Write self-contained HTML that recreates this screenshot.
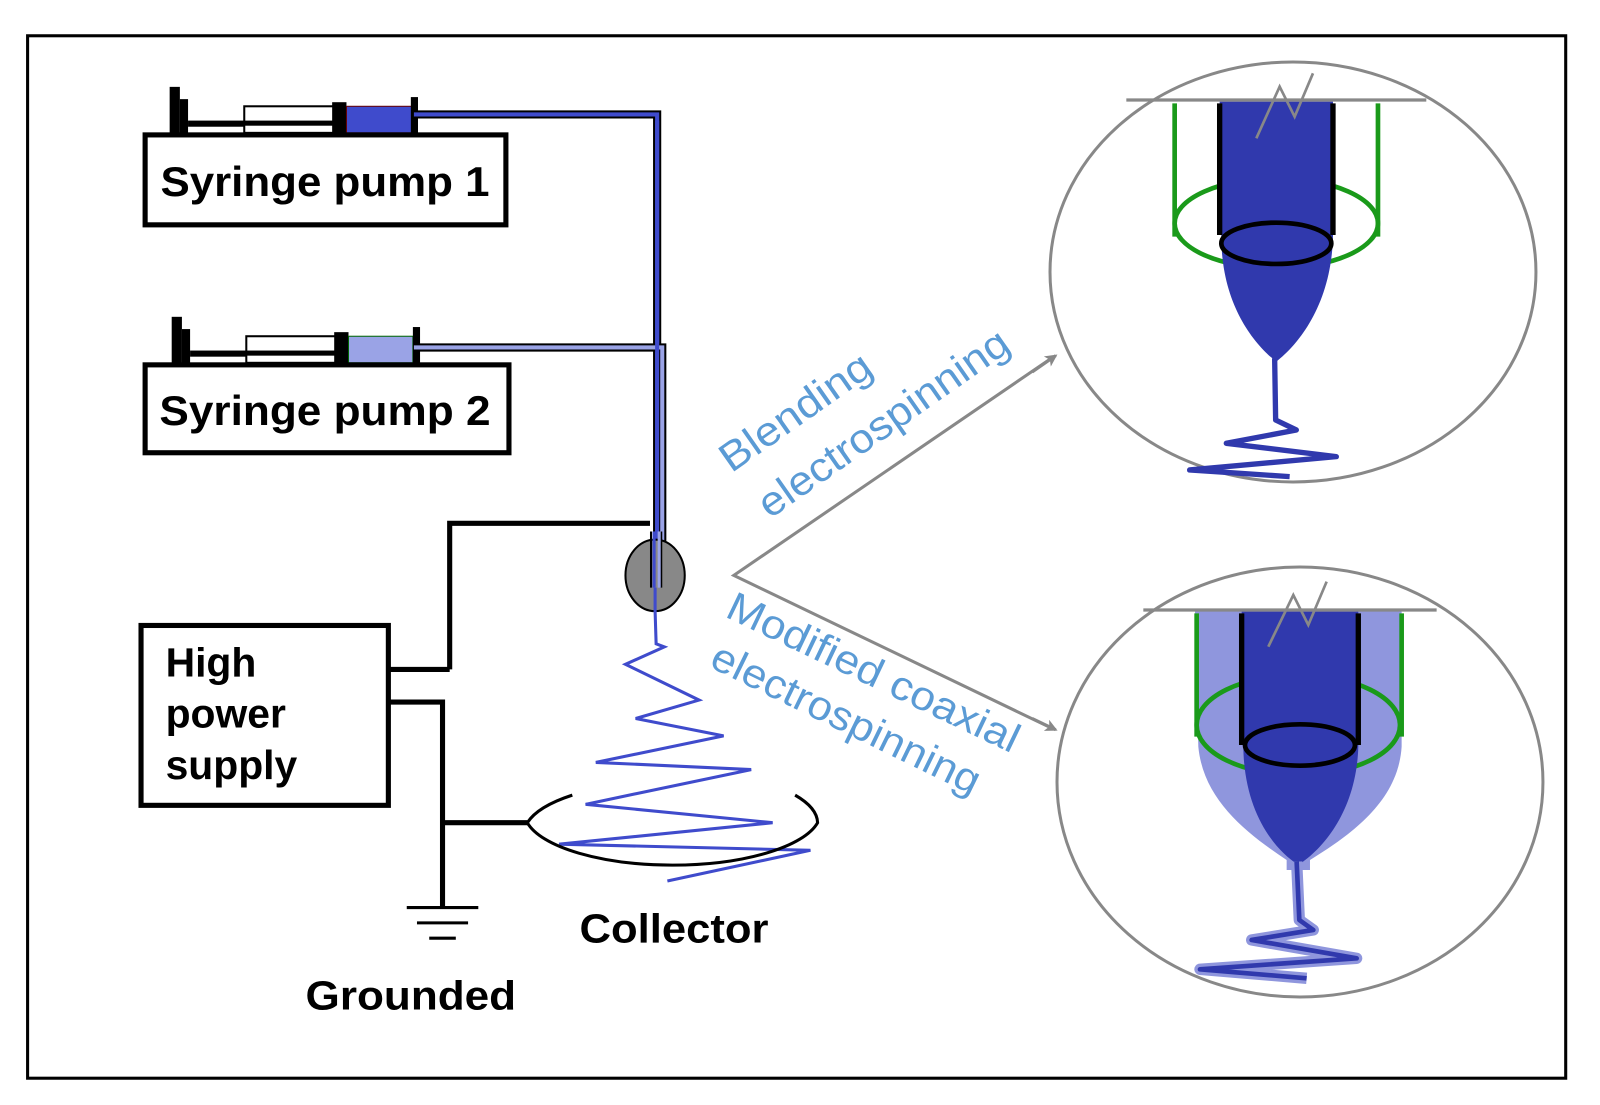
<!DOCTYPE html>
<html><head><meta charset="utf-8"><style>
html,body{margin:0;padding:0;background:#fff;}
svg{display:block;}
text{font-family:"Liberation Sans",Arial,sans-serif;}
</style></head><body>
<svg width="1600" height="1105" viewBox="0 0 1600 1105" xmlns="http://www.w3.org/2000/svg">
<rect width="1600" height="1105" fill="#fff"/>
<defs>
<marker id="ah" markerWidth="12" markerHeight="12" refX="10" refY="6" orient="auto" markerUnits="userSpaceOnUse" viewBox="0 0 12 12">
<path d="M0,0 L12,6 L0,12 L3,6 Z" fill="#888"/></marker>
</defs>
<g transform="scale(1.022)">
<rect x="27" y="35" width="1505" height="1020" fill="none" stroke="#000" stroke-width="3"/>

<!-- syringe 1 -->
<rect x="166" y="85" width="10" height="45" fill="#000"/>
<rect x="176" y="97" width="8" height="33" fill="#000"/>
<rect x="184" y="118" width="146" height="6" fill="#000"/>
<rect x="239" y="104" width="91" height="26" fill="#fff" stroke="#000" stroke-width="2"/>
<rect x="239" y="118" width="91" height="5" fill="#000"/>
<rect x="325" y="100" width="14" height="32" fill="#000"/>
<rect x="339" y="104" width="64" height="26" fill="#3f4bcc" stroke="#600" stroke-width="1"/>
<rect x="402" y="95" width="7" height="38" fill="#000"/>
<path d="M405,112 H643 V565" fill="none" stroke="#000" stroke-width="8"/>
<path d="M405,112 H643 V565" fill="none" stroke="#3f4bcc" stroke-width="4"/>
<rect x="142" y="132" width="353" height="88" fill="#fff" stroke="#000" stroke-width="5"/>
<text x="157" y="192" font-size="41" font-weight="bold" textLength="322" lengthAdjust="spacingAndGlyphs">Syringe pump 1</text>

<!-- syringe 2 -->
<rect x="168" y="310" width="10" height="45" fill="#000"/>
<rect x="178" y="322" width="8" height="33" fill="#000"/>
<rect x="186" y="343" width="146" height="6" fill="#000"/>
<rect x="241" y="329" width="91" height="26" fill="#fff" stroke="#000" stroke-width="2"/>
<rect x="241" y="343" width="91" height="5" fill="#000"/>
<rect x="327" y="325" width="14" height="32" fill="#000"/>
<rect x="341" y="329" width="63" height="26" fill="#9aa3e6" stroke="#060" stroke-width="1"/>
<rect x="404" y="320" width="7" height="38" fill="#000"/>
<path d="M405,340 H648 V565" fill="none" stroke="#000" stroke-width="8"/>
<path d="M405,340 H648 V565" fill="none" stroke="#9aa3e6" stroke-width="4"/>
<path d="M643,118 V565" stroke="#3f4bcc" stroke-width="4"/>
<rect x="142" y="357" width="356" height="86" fill="#fff" stroke="#000" stroke-width="5"/>
<text x="156" y="416" font-size="41" font-weight="bold" textLength="324" lengthAdjust="spacingAndGlyphs">Syringe pump 2</text>

<!-- needle -->
<path d="M440,655 H380 M440,655 V512 H636" fill="none" stroke="#000" stroke-width="5"/>
<ellipse cx="641" cy="563" rx="29" ry="35" fill="#888" stroke="#000" stroke-width="2"/>
<path d="M637,520 V575 M647,520 V575" stroke="#000" stroke-width="2"/>
<path d="M640,520 V575" stroke="#3f4bcc" stroke-width="3"/>
<path d="M645,520 V575" stroke="#9aa3e6" stroke-width="3"/>
<path d="M641,575 V598 L642,630 L650,633 L612,650 L684,685 L622,703 L708,720 L583,746 L735,753 L573,787 L756,805 L547,826 L793,832 L653,862" fill="none" stroke="#3f4bcc" stroke-width="3"/>

<!-- collector -->
<path d="M560,778 A145 52 0 0 0 516,805 A145 52 0 0 0 800,805 A145 52 0 0 0 778,778" fill="none" stroke="#000" stroke-width="3"/>

<!-- power -->
<rect x="138" y="612" width="242" height="176" fill="#fff" stroke="#000" stroke-width="5"/>
<text x="162" y="662" font-size="40" font-weight="bold">High</text>
<text x="162" y="712" font-size="40" font-weight="bold">power</text>
<text x="162" y="762" font-size="40" font-weight="bold">supply</text>
<path d="M380,687 H433 V887 M433,805 H516" fill="none" stroke="#000" stroke-width="5"/>
<path d="M398,888 H468 M408,903 H458 M420,918 H446" stroke="#000" stroke-width="3"/>
<text x="567" y="922" font-size="40" font-weight="bold" textLength="185" lengthAdjust="spacingAndGlyphs">Collector</text>
<text x="299" y="988" font-size="40" font-weight="bold" textLength="206" lengthAdjust="spacingAndGlyphs">Grounded</text>

<!-- arrows -->
<path d="M1028,351 L718,563 L1028,712" fill="none" stroke="#888" stroke-width="3"/>
<path d="M1010,364 L1033,348" stroke="#888" stroke-width="3" marker-end="url(#ah)"/>
<path d="M1010,703 L1033,714" stroke="#888" stroke-width="3" marker-end="url(#ah)"/>
<g fill="#5b9bd5" font-size="40">
<text transform="translate(786,414) rotate(-35)" text-anchor="middle" textLength="172" lengthAdjust="spacingAndGlyphs">Blending</text>
<text transform="translate(872,425) rotate(-35)" text-anchor="middle" textLength="290" lengthAdjust="spacingAndGlyphs">electrospinning</text>
<text transform="translate(849,670) rotate(25.5)" text-anchor="middle" textLength="312" lengthAdjust="spacingAndGlyphs">Modified coaxial</text>
<text transform="translate(822,715) rotate(26)" text-anchor="middle" textLength="288" lengthAdjust="spacingAndGlyphs">electrospinning</text>
</g>
</g>

<!-- bottom insert (zoom coords) -->
<g transform="translate(1100,560) scale(0.3333)">
<ellipse cx="600" cy="666" rx="729" ry="645" fill="#fff" stroke="#888" stroke-width="9"/>
<path d="M285,150 H905 V560 C895,720 760,820 630,900 L630,930 L560,930 L560,900 C440,820 310,720 295,560 Z" fill="#8f96dd"/>
<path d="M290,160 V530 M905,160 V530" stroke="#1a9a1a" stroke-width="14"/>
<ellipse cx="595" cy="495" rx="305" ry="150" fill="none" stroke="#1a9a1a" stroke-width="14"/>
<path d="M425,155 H775 V560 C770,740 680,860 595,915 C510,860 432,740 430,560 Z" fill="#3039ad"/>
<path d="M425,160 V555 M775,160 V555" stroke="#000" stroke-width="16"/>
<ellipse cx="600" cy="555" rx="165" ry="62" fill="none" stroke="#000" stroke-width="14"/>
<path d="M590,905 L598,1080 L640,1110 L455,1140 L770,1195 L300,1228 L620,1255" fill="none" stroke="#8f96dd" stroke-width="34" stroke-linejoin="round"/>
<path d="M590,905 L598,1080 L640,1110 L455,1140 L770,1195 L300,1228 L620,1255" fill="none" stroke="#3039ad" stroke-width="14" stroke-linejoin="round"/>
<path d="M130,150 H1010" stroke="#888" stroke-width="10"/>
<path d="M505,260 L580,105 L625,195 L680,65" fill="none" stroke="#888" stroke-width="8"/>
</g>

<!-- top insert -->
<g transform="translate(1093,50) scale(0.3333)">
<ellipse cx="600" cy="666" rx="729" ry="630" fill="#fff" stroke="#888" stroke-width="9"/>
<path d="M245,160 V560 M855,160 V560" stroke="#1a9a1a" stroke-width="14"/>
<ellipse cx="550" cy="520" rx="305" ry="135" fill="none" stroke="#1a9a1a" stroke-width="14"/>
<path d="M380,155 H720 V560 C715,760 620,880 550,935 C480,880 385,760 385,560 Z" fill="#3039ad"/>
<path d="M380,160 V555 M720,160 V555" stroke="#000" stroke-width="16"/>
<ellipse cx="550" cy="580" rx="165" ry="62" fill="none" stroke="#000" stroke-width="14"/>
<path d="M545,925 L548,1110 L610,1140 L400,1180 L730,1220 L290,1260 L590,1280" fill="none" stroke="#3039ad" stroke-width="16" stroke-linejoin="round"/>
<path d="M100,150 H1000" stroke="#888" stroke-width="10"/>
<path d="M490,265 L560,110 L605,200 L660,70" fill="none" stroke="#888" stroke-width="8"/>
</g>
</svg>
</body></html>
